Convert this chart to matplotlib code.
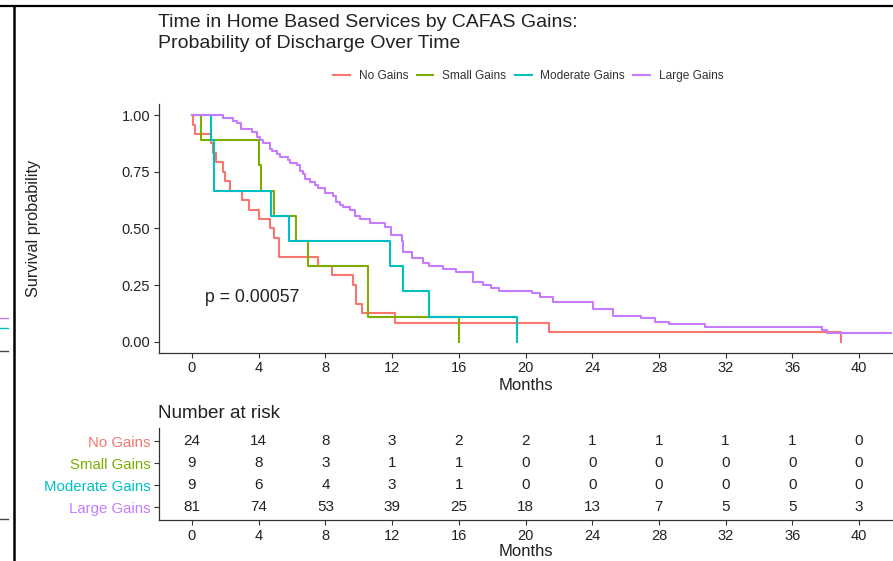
import matplotlib
matplotlib.use("Agg")
import matplotlib.pyplot as plt
from matplotlib.lines import Line2D

plt.rcParams['font.family'] = ['Liberation Sans', 'DejaVu Sans']

# ---------------- data ----------------
groups = ["No Gains", "Small Gains", "Moderate Gains", "Large Gains"]
colors = ["#F8766D", "#7CAE00", "#00BFC4", "#C77CFF"]

no_t = [0, 0.05, 0.16, 1.16, 1.28, 1.44, 1.84, 1.96, 2.28, 2.98, 3.40, 4.02,
        4.68, 4.92, 5.24, 7.58, 8.42, 9.67, 9.81, 10.18, 12.20, 21.43, 38.92]
no_s = [1.0, 0.958, 0.917, 0.875, 0.833, 0.792, 0.750, 0.708, 0.667, 0.625,
        0.583, 0.542, 0.500, 0.458, 0.375, 0.333, 0.292, 0.250, 0.167, 0.125,
        0.083, 0.042, 0.0]

small_t = [0, 0.54, 4.02, 4.12, 4.92, 6.22, 6.98, 10.58, 16.02]
small_s = [1.0, 0.889, 0.778, 0.667, 0.556, 0.444, 0.333, 0.111, 0.0]

mod_t = [0, 1.14, 1.34, 4.72, 5.84, 11.89, 12.67, 14.19, 19.47]
mod_s = [1.0, 0.889, 0.667, 0.556, 0.444, 0.333, 0.222, 0.111, 0.0]

large_t = [0, 1.84, 2.48, 2.68, 2.92, 3.58, 3.88, 4.08, 4.28, 4.68, 4.78, 5.12,
           5.28, 5.78, 5.88, 6.28, 6.48, 6.64, 6.78, 7.08, 7.38, 7.58, 7.98,
           8.48, 8.62, 8.88, 9.08, 9.48, 9.78, 10.08, 10.67, 11.57, 11.91,
           12.57, 12.67, 13.21, 13.83, 14.23, 15.03, 15.83, 16.83, 17.43,
           17.93, 18.43, 20.37, 20.87, 21.67, 24.03, 25.27, 26.91, 27.77,
           28.63, 30.76, 37.76, 38.06, 44.0]
large_s = [1.0, 0.988, 0.975, 0.963, 0.938, 0.926, 0.901, 0.889, 0.877, 0.852,
           0.840, 0.827, 0.815, 0.802, 0.790, 0.778, 0.753, 0.741, 0.716,
           0.704, 0.691, 0.679, 0.654, 0.642, 0.617, 0.605, 0.593, 0.580,
           0.556, 0.543, 0.522, 0.506, 0.469, 0.444, 0.395, 0.370, 0.349,
           0.333, 0.321, 0.309, 0.262, 0.250, 0.235, 0.225, 0.213, 0.198,
           0.177, 0.143, 0.113, 0.103, 0.088, 0.077, 0.066, 0.052, 0.040,
           0.040]

risk_times = [0, 4, 8, 12, 16, 20, 24, 28, 32, 36, 40]
risk_no = [24, 14, 8, 3, 2, 2, 1, 1, 1, 1, 0]
risk_small = [9, 8, 3, 1, 1, 0, 0, 0, 0, 0, 0]
risk_mod = [9, 6, 4, 3, 1, 0, 0, 0, 0, 0, 0]
risk_large = [81, 74, 53, 39, 25, 18, 13, 7, 5, 5, 3]

y_ticks = [0.0, 0.25, 0.5, 0.75, 1.0]
y_ticklabels = ["0.00", "0.25", "0.50", "0.75", "1.00"]
p_text = "p = 0.00057"
title_lines = ["Time in Home Based Services by CAFAS Gains:",
               "Probability of Discharge Over Time"]

# ---------------- figure ----------------
W, H = 893, 561
fig = plt.figure(figsize=(W / 100, H / 100), dpi=100)

def fx(px):
    return px / W

def fy(py):
    return 1 - py / H

TXT = "#222222"
AXC = "#333333"
AX_L, AX_R = 158.65, 892.35
AX_W = AX_R - AX_L

# main axes
ax = fig.add_axes([fx(AX_L), fy(353.0), AX_W / W, (353.0 - 103.7) / H])
curves = [(no_t, no_s), (small_t, small_s), (mod_t, mod_s), (large_t, large_s)]
handles = []
for (t, s), c, g in zip(curves, colors, groups):
    ln, = ax.step(t, s, where="post", color=c, lw=1.5, label=g)
    handles.append(ln)

ax.set_xlim(-2, 42)
ax.set_ylim(-0.05, 1.05)
ax.set_xticks(risk_times)
ax.set_xticklabels([str(v) for v in risk_times])
ax.set_yticks(y_ticks)
ax.set_yticklabels(y_ticklabels)
for sp in ["top", "right"]:
    ax.spines[sp].set_visible(False)
for sp in ["left", "bottom"]:
    ax.spines[sp].set_color(AXC)
    ax.spines[sp].set_linewidth(0.9)
ax.tick_params(axis="both", colors=AXC, labelcolor=TXT, labelsize=10.5,
               length=3.5, width=0.8, pad=2.5)
ax.set_xlabel("Months", fontsize=12, color=TXT, labelpad=2)
ax.set_ylabel("Survival probability", fontsize=11.7, color=TXT)
ax.yaxis.set_label_coords((41 - AX_L) / AX_W, 0.5)
ax.text(0.8, 0.197, p_text, fontsize=12.7, color=TXT, ha="left", va="center")

# title
fig.text(fx(158), fy(27.3), title_lines[0], fontsize=14, color=TXT,
         ha="left", va="baseline")
fig.text(fx(158), fy(48.5), title_lines[1], fontsize=14, color=TXT,
         ha="left", va="baseline")

# legend
leg = fig.legend(handles=handles, labels=groups, loc="center",
                 bbox_to_anchor=(fx(528.5), fy(76)), ncol=4, frameon=False,
                 fontsize=8.6, handlelength=1.4, handletextpad=0.75,
                 columnspacing=0.7, borderaxespad=0, borderpad=0)
for txt in leg.get_texts():
    txt.set_color("#333333")

# risk table axes
ax2 = fig.add_axes([fx(AX_L), fy(520.3), AX_W / W, 92.0 / H])
ax2.set_xlim(-2, 42)
ax2.set_ylim(0.4, 4.6)
risk_rows = [risk_no, risk_small, risk_mod, risk_large]
row_pos = [4, 3, 2, 1]
for vals, yp in zip(risk_rows, row_pos):
    for t, v in zip(risk_times, vals):
        ax2.text(t, yp, str(v), ha="center", va="center", fontsize=11, color=TXT)
ax2.set_xticks(risk_times)
ax2.set_xticklabels([str(v) for v in risk_times])
for sp in ["top", "right"]:
    ax2.spines[sp].set_visible(False)
for sp in ["left", "bottom"]:
    ax2.spines[sp].set_color(AXC)
    ax2.spines[sp].set_linewidth(0.9)
ax2.tick_params(axis="both", colors=AXC, length=3.5, width=0.8, pad=2.5)
ax2.tick_params(axis="x", labelcolor=TXT, labelsize=10.5)
ax2.set_yticks(row_pos)
ax2.set_yticklabels(groups, fontsize=10.8)
for lab, c in zip(ax2.get_yticklabels(), colors):
    lab.set_color(c)
ax2.set_xlabel("Months", fontsize=12, color=TXT, labelpad=1)
fig.text(fx(158), fy(413), "Number at risk", fontsize=13.6, color=TXT,
         ha="left", va="center")

# left / top frame remnants
fig.add_artist(Line2D([0, 1], [fy(5.5), fy(5.5)], transform=fig.transFigure,
                      color="black", lw=1.6))
fig.add_artist(Line2D([fx(13.5), fx(13.5)], [fy(5.5), 0], transform=fig.transFigure,
                      color="black", lw=1.8))
for yy, cc in [(318, "#C77CFF"), (328, "#00BFC4"), (351, "#444444"), (519, "#444444")]:
    fig.add_artist(Line2D([0, fx(8)], [fy(yy), fy(yy)], transform=fig.transFigure,
                          color=cc, lw=1.0))

fig.savefig("out.png", dpi=100)
